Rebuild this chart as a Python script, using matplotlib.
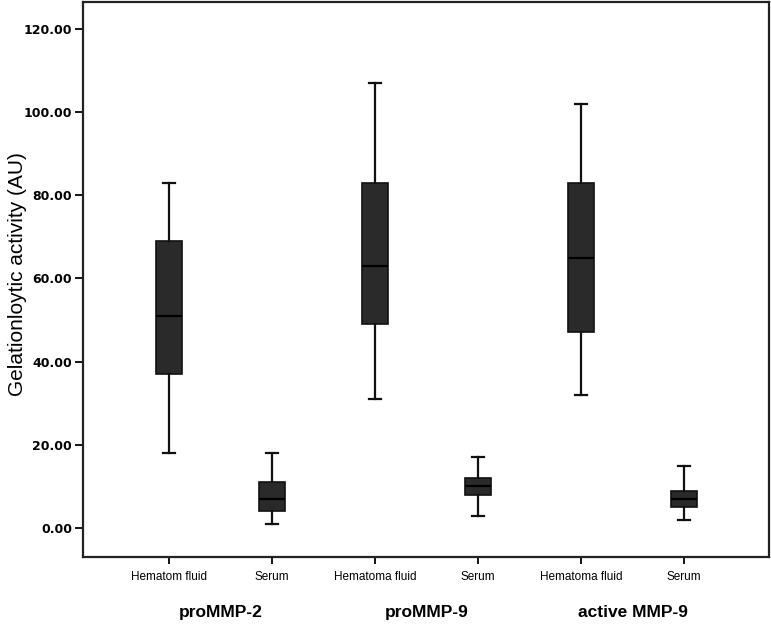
import matplotlib.pyplot as plt
from matplotlib.transforms import blended_transform_factory

# box statistics (whislo, q1, med, q3, whishi)
tick_labels = ["Hematom fluid", "Serum", "Hematoma fluid", "Serum", "Hematoma fluid", "Serum"]
groups = ["proMMP-2", "proMMP-9", "active MMP-9"]
whislo = [18, 1, 31, 3, 32, 2]
q1 = [37, 4, 49, 8, 47, 5]
med = [51, 7, 63, 10, 65, 7]
q3 = [69, 11, 83, 12, 83, 9]
whishi = [83, 18, 107, 17, 102, 15]

stats = []
for i in range(len(tick_labels)):
    stats.append(dict(whislo=whislo[i], q1=q1[i], med=med[i], q3=q3[i],
                      whishi=whishi[i], fliers=[]))

fig = plt.figure(figsize=(7.71, 6.26), dpi=100)
ax = fig.add_axes([0.1077, 0.1102, 0.8897, 0.8866])

pos = list(range(1, len(tick_labels) + 1))
ax.bxp(stats, positions=pos, widths=0.26, capwidths=0.12, patch_artist=True,
       showfliers=False,
       boxprops=dict(facecolor="#2a2a2a", edgecolor="#111111", linewidth=1.2),
       medianprops=dict(color="#000000", linewidth=1.6),
       whiskerprops=dict(color="#111111", linewidth=1.6),
       capprops=dict(color="#111111", linewidth=1.6))

ax.set_xlim(0.165, 6.825)
ax.set_ylim(-6.97, 126.4)
ax.set_yticks([0, 20, 40, 60, 80, 100, 120])
ax.set_yticklabels([f"{v:.2f}" for v in [0, 20, 40, 60, 80, 100, 120]],
                   fontsize=9, fontweight="bold", family="DejaVu Sans")
ax.set_xticks(pos)
ax.set_xticklabels(tick_labels, fontsize=8.5, family="Liberation Sans")
ax.tick_params(axis="y", length=6, width=1.3, pad=2)
ax.tick_params(axis="x", length=5, width=1.3, pad=5)
for s in ax.spines.values():
    s.set_linewidth(1.6)
    s.set_color("#222222")

ax.set_ylabel("Gelationloytic activity (AU)", fontsize=15, family="Liberation Sans",
              va="center")
ax.yaxis.set_label_coords(-0.095, 0.51)

trans = blended_transform_factory(ax.transData, fig.transFigure)
for k, g in enumerate(groups):
    ax.text(2 * k + 1.5, 0.022, g, transform=trans, ha="center", va="center",
            fontsize=12.5, fontweight="bold", family="Liberation Sans")

fig.savefig("out.png", dpi=100)
